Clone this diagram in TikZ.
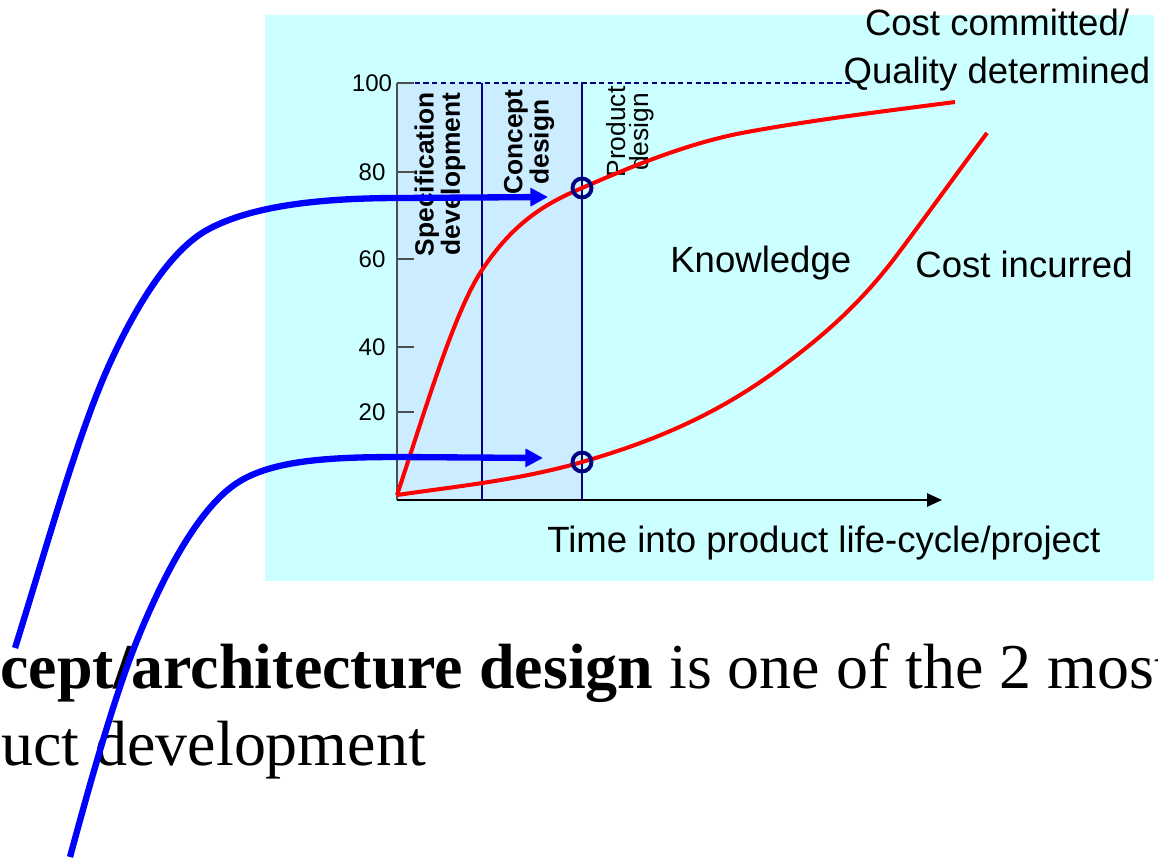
\documentclass[tikz,border=0pt]{standalone}
\usepackage{fontspec}
\setmainfont{Liberation Sans}
\newfontfamily\timesfont{Liberation Serif}
\usetikzlibrary{arrows.meta}

\definecolor{panelcyan}{HTML}{CCFFFF}
\definecolor{phaseblue}{HTML}{CCECFF}
\definecolor{navy}{HTML}{000080}
\definecolor{axisgray}{HTML}{4D4D4D}

\tikzset{
  curve/.style={red, line width=2.3pt, line join=round},
  pointer/.style={blue, line width=3.6pt, -{Triangle[length=10pt,width=10pt]}},
  phase/.style={rotate=90, align=center, inner sep=0pt, font=\fontsize{15}{13.4}\selectfont},
  biglabel/.style={inner sep=0pt, font=\fontsize{20.8}{27.3}\selectfont},
  hit/.style={circle, draw=navy, line width=2.2pt, minimum size=10.8pt, inner sep=0pt}
}

\begin{document}
\begin{tikzpicture}[x=0.02cm, y=-0.02cm]

  \useasboundingbox (0,0) rectangle (1158,862);
  \fill[panelcyan] (265,15) rectangle (1154,581);
  \fill[phaseblue] (397,83) rectangle (582,500);

  % axes
  \coordinate (o) at (397,500);
  \coordinate (ytop) at (397,83);
  \coordinate (xend) at (942,500);
  \coordinate (dashend) at (852,83);
  \draw[navy, line width=.6pt, dash pattern=on 3pt off 2pt] (ytop) -- (dashend);
  \draw[axisgray, line width=1.1pt] (o) -- (ytop);
  \draw[line width=1.1pt, -{Triangle[length=8.5pt,width=7.5pt]}] (o) -- (xend);

  \begin{scope}[every node/.style={font=\fontsize{13.7}{16}\selectfont, inner sep=0pt}]
    \foreach \v/\y in {100/83, 80/172, 60/259, 40/347, 20/412} {
      \coordinate (tick\v) at (397,\y);
      \draw[axisgray, line width=1.1pt] (tick\v) -- ++(17,0);
      \node (lab\v) at (372,\y) {\v};
    }
  \end{scope}

  % phase borders
  \foreach \x/\n in {482/spec, 582/concept} {
    \coordinate (\n top) at (\x,83);
    \coordinate (\n bot) at (\x,500);
    \draw[navy, line width=1.2pt] (\n top) -- (\n bot);
  }

  \node[phase, font=\fontsize{15}{13.4}\selectfont\bfseries] (spec) at (440,174) {Specification\\development};
  \node[phase, font=\fontsize{15}{13.4}\selectfont\bfseries] (concept) at (529,142) {Concept\\design};
  \node[phase] (product) at (630,132) {Product\\design};

  % curves
  \coordinate (o2) at (397,495);
  \coordinate (commitend) at (955,102);
  \coordinate (incurend) at (987,133);
  \draw[curve] (o2) .. controls (425,411) and (454,312) .. (482,270)
    .. controls (515,220) and (549,202) .. (582,188)
    .. controls (637,164) and (692,142) .. (747,132)
    .. controls (816,119.5) and (886,111) .. (commitend);
  \draw[curve] (o2) .. controls (459,486) and (520,480) .. (582,462)
    .. controls (648,443) and (714,417) .. (780,368)
    .. controls (819,339) and (858,307) .. (897,255)
    .. controls (927,215) and (957,173) .. (incurend);

  \node[hit] (hitA) at (582,188) {};
  \node[hit] (hitB) at (582,462) {};

  \node[biglabel, align=center] (committed) at (997,50) {Cost committed/\\Quality determined};
  \node[biglabel, anchor=base west] (knowledge) at (670,272) {Knowledge};
  \node[biglabel, anchor=base west] (incurred) at (915,277) {Cost incurred};
  \node[biglabel, anchor=base west] (time) at (547,552) {Time into product life-cycle/project};

  % slide text
  \begin{scope}[every node/.style={anchor=base west, inner sep=0pt, font=\timesfont\fontsize{36.4}{44}\selectfont}]
    \node (claim) at (0,688) {\textbf{cept/architecture design} is one of the 2 most};
    \node (claimtail) at (1,765) {uct development};
  \end{scope}

  % pointers
  \coordinate (fromA) at (15,648);
  \coordinate (toA) at (548,197);
  \coordinate (fromB) at (70,857);
  \coordinate (toB) at (543,458);
  \draw[pointer] (fromA) .. controls (47,546) and (78,433) .. (110,363)
    .. controls (142,293) and (175,248) .. (207,230)
    .. controls (247,208) and (310,198) .. (400,198) -- (toA);
  \draw[pointer] (fromB) .. controls (93,772) and (117,688) .. (140,633)
    .. controls (172,556) and (205,504) .. (237,483)
    .. controls (272,460) and (330,457) .. (400,457) -- (toB);

\end{tikzpicture}
\end{document}
